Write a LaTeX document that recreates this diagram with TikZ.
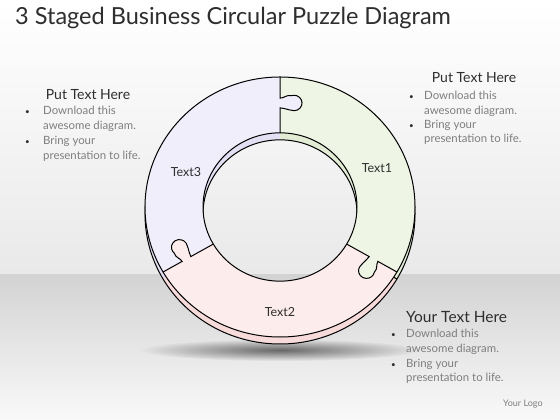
\documentclass[tikz,border=0pt]{standalone}
\usepackage{fontspec}
\setmainfont{Lato}
\usetikzlibrary{fadings}
\definecolor{pgreen}{HTML}{EFF5E5}
\definecolor{ppurple}{HTML}{F0EEFA}
\definecolor{ppink}{HTML}{FDECEC}
\definecolor{bgreen}{HTML}{E2ECD5}
\definecolor{bpurple}{HTML}{E3E0F3}
\definecolor{bpink}{HTML}{F7DADA}
\definecolor{bgtop}{HTML}{E9E9E9}
\definecolor{floortop}{HTML}{D3D3D3}
\definecolor{floorbot}{HTML}{F9F9F9}
\definecolor{bodygray}{HTML}{7E7E7E}
\definecolor{headgray}{HTML}{2E2E2E}
\tikzfading[name=fuzzyell, inner color=transparent!0, outer color=transparent!100]
\tikzset{
  ringline/.style={draw=black, line width=1pt},
  heading/.style={text=headgray, font=\fontsize{14}{16}\selectfont, inner sep=0pt},
  bodytext/.style={text=bodygray, font=\fontsize{11.4}{13}\selectfont, anchor=base west, inner sep=0pt},
  bulletmark/.style={text=headgray, font=\fontsize{8}{10}\selectfont, anchor=base west, inner sep=0pt},
  piecelabel/.style={text=headgray, font=\fontsize{12.5}{14}\selectfont, inner sep=0pt},
}
\newcommand\mypiece[3]{%
  \fill[#3] (#1:77) -- (#1:135) arc[start angle=#1, end angle=#2, radius=135]
    -- (#2:77) arc[start angle=#2, end angle=#1, radius=77] -- cycle;}
\newcommand\myknob[2]{%
  \begin{scope}[rotate=#1]
    \fill[#2] (103,0) .. controls (103,-4) and (101,-7) .. (100.5,-11.3)
      arc[start angle=160, end angle=380, radius=8]
      .. controls (117,-7) and (113,-4) .. (113,0) -- cycle;
    \draw[ringline] (77,0) -- (103,0) .. controls (103,-4) and (101,-7) .. (100.5,-11.3)
      arc[start angle=160, end angle=380, radius=8]
      .. controls (117,-7) and (113,-4) .. (113,0) -- (135,0);
  \end{scope}}
\begin{document}
\begin{tikzpicture}[x=1pt,y=1pt]
\useasboundingbox (0,0) rectangle (560,420);
% background
\shade[top color=white, bottom color=bgtop] (0,145) rectangle (560,420);
\shade[top color=floortop, bottom color=floorbot] (0,0) rectangle (560,145);
% shadow
\fill[black, opacity=0.55, path fading=fuzzyell] (280,70) ellipse [x radius=140, y radius=11];
% base (thickness) ring
\begin{scope}[shift={(280,206)}, yscale=0.963]
  \mypiece{-30}{90}{bgreen}
  \mypiece{90}{210}{bpurple}
  \mypiece{210}{330}{bpink}
  \draw[ringline] (0,0) circle[radius=135];
  \draw[ringline] (0,0) circle[radius=77];
  \draw[ringline] (-30:135) -- (-30:130);
\end{scope}
% top ring
\begin{scope}[shift={(280,213)}, yscale=0.963]
  \mypiece{-30}{90}{pgreen}
  \mypiece{90}{210}{ppurple}
  \mypiece{210}{330}{ppink}
  \myknob{90}{ppurple}
  \myknob{-30}{pgreen}
  \myknob{210}{ppink}
  \draw[ringline] (0,0) circle[radius=135];
  \draw[ringline] (0,0) circle[radius=77];
\end{scope}
% piece labels
\node[piecelabel] (t1) at (377,252) {Text1};
\node[piecelabel] (t3) at (186,248) {Text3};
\node[piecelabel] (t2) at (280,108) {Text2};
% title
\node[anchor=base west, inner sep=0pt, text=headgray, font=\fontsize{23.5}{28}\selectfont] (title) at (15,395) {3 Staged Business Circular Puzzle Diagram};
% left block
\node[heading, anchor=base] (lh) at (88,320) {Put Text Here};
\node[bulletmark] (lb1) at (25,305) {•};
\node[bodytext] (l1) at (43,305) {Download this};
\node[bodytext] (l2) at (43,290) {awesome diagram.};
\node[bulletmark] (lb2) at (25,275) {•};
\node[bodytext] (l3) at (43,275) {Bring your};
\node[bodytext] (l4) at (43,260) {presentation to life.};
% right block
\node[heading, anchor=base] (rh) at (474,337) {Put Text Here};
\node[bulletmark] (rb1) at (409,320) {•};
\node[bodytext] (r1) at (424,320) {Download this};
\node[bodytext] (r2) at (424,305) {awesome diagram.};
\node[bulletmark] (rb2) at (409,291) {•};
\node[bodytext] (r3) at (424,291) {Bring your};
\node[bodytext] (r4) at (424,277) {presentation to life.};
% bottom right block
\node[heading, anchor=base west, font=\fontsize{15.5}{18}\selectfont] (bh) at (406,97) {Your Text Here};
\node[bulletmark] (bb1) at (391,82) {•};
\node[bodytext] (b1) at (406,82) {Download this};
\node[bodytext] (b2) at (406,67) {awesome diagram.};
\node[bulletmark] (bb2) at (391,52) {•};
\node[bodytext] (b3) at (406,52) {Bring your};
\node[bodytext] (b4) at (406,38) {presentation to life.};
% logo
\node[anchor=base west, inner sep=0pt, text=bodygray, font=\fontsize{9}{10}\selectfont] (logo) at (503,13) {Your Logo};
\end{tikzpicture}
\end{document}
